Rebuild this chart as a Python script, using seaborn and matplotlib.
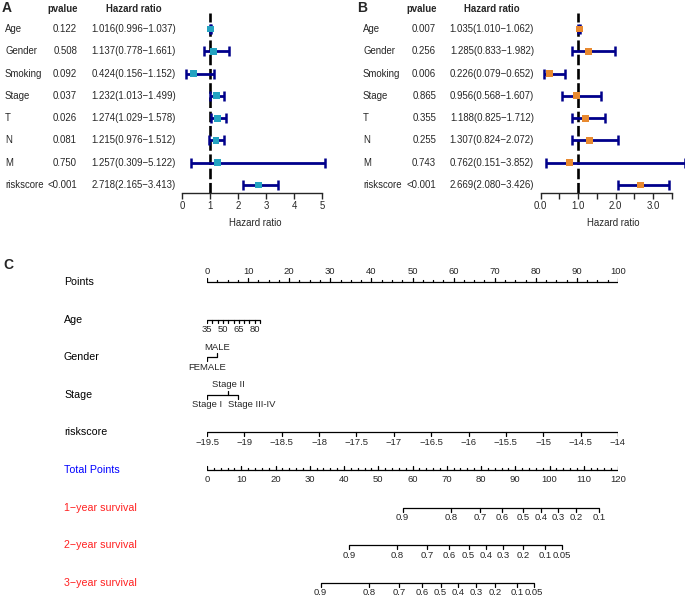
import numpy as np
import pandas as pd
import seaborn as sns
import matplotlib.pyplot as plt
from matplotlib import transforms

sns.set_style("white")
plt.rcParams['font.family'] = ['Liberation Sans', 'DejaVu Sans']

variables = ['Age', 'Gender', 'Smoking', 'Stage', 'T', 'N', 'M', 'riskscore']

# A: univariate cox
uni_p = ['0.122', '0.508', '0.092', '0.037', '0.026', '0.081', '0.750', '<0.001']
uni_hr = [1.016, 1.137, 0.424, 1.232, 1.274, 1.215, 1.257, 2.718]
uni_low = [0.996, 0.778, 0.156, 1.013, 1.029, 0.976, 0.309, 2.165]
uni_high = [1.037, 1.661, 1.152, 1.499, 1.578, 1.512, 5.122, 3.413]

# B: multivariate cox
multi_p = ['0.007', '0.256', '0.006', '0.865', '0.355', '0.255', '0.743', '<0.001']
multi_hr = [1.035, 1.285, 0.226, 0.956, 1.188, 1.307, 0.762, 2.669]
multi_low = [1.010, 0.833, 0.079, 0.568, 0.825, 0.824, 0.151, 2.080]
multi_high = [1.062, 1.982, 0.652, 1.607, 1.712, 2.072, 3.852, 3.426]

# C: nomogram (positions on the 0-100 points scale)
age_values = [35, 85]
age_points = [0, 12.9]
age_labels = [35, 50, 65, 80]
gender_labels = ['FEMALE', 'MALE']
gender_points = [0, 2.4]
stage_labels = ['Stage I', 'Stage II', 'Stage III-IV']
stage_points = [0, 5.1, 7.5]
risk_values = [-19.5, -14]
risk_points = [0, 100]
total_max = 120
surv1_prob = ['0.9', '0.8', '0.7', '0.6', '0.5', '0.4', '0.3', '0.2', '0.1']
surv1_total = [57.1, 71.2, 79.7, 86.1, 92.3, 97.5, 102.5, 107.7, 114.5]
surv2_prob = ['0.9', '0.8', '0.7', '0.6', '0.5', '0.4', '0.3', '0.2', '0.1', '0.05']
surv2_total = [41.5, 55.4, 64.2, 70.6, 76.4, 81.5, 86.4, 92.3, 98.8, 103.6]
surv3_prob = ['0.9', '0.8', '0.7', '0.6', '0.5', '0.4', '0.3', '0.2', '0.1', '0.05']
surv3_total = [33.2, 47.3, 56.2, 62.9, 68.2, 73.3, 78.5, 84.1, 90.5, 95.5]

W, H = 685, 596
fig = plt.figure(figsize=(W / 100, H / 100), dpi=100)


def fx(px):
    return px / W


def fy(py):
    return 1 - py / H


FS = 6.9
navy = '#00008B'


def forest(x0, ppu, xmax, spine_max, hr, lo, hi, pv, color, ticks, ticklabels,
           name_x, p_x, hr_x, hrhead_x, letter, letter_x):
    ax = fig.add_axes([fx(x0), fy(193), xmax * ppu / W, 180 / H])
    df = pd.DataFrame({'var': variables, 'row': np.arange(8), 'hr': hr, 'lo': lo, 'hi': hi})
    ax.axvline(1, color='black', lw=1.9, ls=(0, (4, 1.4)), zorder=1)
    ax.errorbar(df['hr'], df['row'], xerr=[df['hr'] - df['lo'], df['hi'] - df['hr']],
                fmt='none', ecolor=navy, elinewidth=2.0, capsize=3.6, capthick=1.8, zorder=2)
    sns.scatterplot(data=df, x='hr', y='row', marker='s', color=color, s=24,
                    edgecolor='none', ax=ax, zorder=3, legend=False)
    ax.set_xlim(0, xmax)
    ax.set_ylim(7.36, -0.72)
    for a in ax.get_children():
        try:
            a.set_clip_on(False)
        except Exception:
            pass
    for s in ['left', 'top', 'right']:
        ax.spines[s].set_visible(False)
    ax.spines['bottom'].set_bounds(0, spine_max)
    ax.spines['bottom'].set_linewidth(1.0)
    ax.set_yticks([])
    ax.set_xticks(ticks)
    ax.set_xticklabels(ticklabels)
    ax.tick_params(axis='x', direction='out', length=4, width=1, labelsize=FS, pad=2,
                   bottom=True)
    ax.set_xlabel('Hazard ratio', fontsize=FS, labelpad=5)
    ax.set_ylabel('')
    tr = transforms.blended_transform_factory(fig.transFigure, ax.transData)
    for i, v in enumerate(variables):
        ax.text(fx(name_x), i, v, transform=tr, ha='left', va='center', fontsize=FS)
        ax.text(fx(p_x), i, pv[i], transform=tr, ha='right', va='center', fontsize=FS)
        ax.text(fx(hr_x), i, f'{hr[i]:.3f}({lo[i]:.3f}\u2212{hi[i]:.3f})', transform=tr,
                ha='right', va='center', fontsize=FS)
    fig.text(fx(p_x + 1), fy(9), 'pvalue', ha='right', va='center', fontsize=FS, weight='bold')
    fig.text(fx(hrhead_x), fy(9), 'Hazard ratio', ha='center', va='center', fontsize=FS,
             weight='bold')
    fig.text(fx(letter_x), fy(8), letter, ha='left', va='center', fontsize=10, weight='bold')
    return ax


forest(182, 28.0, 5.2, 5, uni_hr, uni_low, uni_high, uni_p, '#24A3C1',
       [0, 1, 2, 3, 4, 5], ['0', '1', '2', '3', '4', '5'],
       5, 77, 176, 134, 'A', 2)
forest(540.7, 37.4, 3.86, 3.5, multi_hr, multi_low, multi_high, multi_p, '#E8892F',
       np.arange(0, 3.51, 0.5), ['0.0', '', '1.0', '', '2.0', '', '3.0', ''],
       363, 436, 534, 492, 'B', 357)

# ---- nomogram ----
axc = fig.add_axes([fx(207), fy(596), (618 - 207) / W, (596 - 250) / H])
axc.set_xlim(0, 100)
row_dy = 37.6
axc.set_ylim((596 - 282) / row_dy, (250 - 282) / row_dy)
axc.axis('off')
px_y = 1 / row_dy  # one pixel in row units
LW = 0.9
TFS = 6.8


def scale_line(row, x_start, x_end):
    axc.plot([x_start, x_end], [row, row], color='black', lw=LW, solid_capstyle='butt')


def tick(row, x, up, length=4):
    d = -length * px_y if up else length * px_y
    axc.plot([x, x], [row, row + d], color='black', lw=LW)


def label(row, x, text, up):
    d = -10 * px_y if up else 10 * px_y
    axc.text(x, row + d, text, ha='center', va='center', fontsize=TFS)


trc = transforms.blended_transform_factory(fig.transFigure, axc.transData)
row_names = ['Points', 'Age', 'Gender', 'Stage', 'riskscore', 'Total Points',
             '1\u2212year survival', '2\u2212year survival', '3\u2212year survival']
row_colors = ['black'] * 5 + ['#0000FF'] + ['#FF2020'] * 3
for r, (n, c) in enumerate(zip(row_names, row_colors)):
    axc.text(fx(64), r, n, transform=trc, ha='left', va='center', fontsize=7.7, color=c)

# Points
scale_line(0, 0, 100)
for v in np.arange(0, 100.1, 2.5):
    tick(0, v, True, 4 if v % 10 == 0 else 2.5)
for v in range(0, 101, 10):
    label(0, v, str(v), True)

# Age
scale_line(1, age_points[0], age_points[1])
for v in range(35, 86, 5):
    tick(1, np.interp(v, age_values, age_points), False, 3)
for v in age_labels:
    label(1, np.interp(v, age_values, age_points), str(v), False)

# Gender
scale_line(2, gender_points[0], gender_points[1])
for i, (n, p) in enumerate(zip(gender_labels, gender_points)):
    up = i % 2 == 1
    tick(2, p, up, 4)
    label(2, p, n, up)

# Stage
scale_line(3, stage_points[0], stage_points[-1])
for i, (n, p) in enumerate(zip(stage_labels, stage_points)):
    up = i % 2 == 1
    tick(3, p, up, 4)
    shift = 3.4 if n == 'Stage III-IV' else 0
    label(3, p + shift, n, up)

# riskscore
scale_line(4, 0, 100)
for v in np.arange(-19.5, -13.9, 0.5):
    x = np.interp(v, risk_values, risk_points)
    tick(4, x, False, 4)
    label(4, x, f'{v:g}'.replace('-', '\u2212'), False)

# Total points
scale_line(5, 0, 100)
for v in range(0, total_max + 1, 2):
    tick(5, v * 100 / total_max, True, 4 if v % 10 == 0 else 2.5)
for v in range(0, total_max + 1, 10):
    label(5, v * 100 / total_max, str(v), False)

# survival
for r, probs, tps in [(6, surv1_prob, surv1_total), (7, surv2_prob, surv2_total),
                      (8, surv3_prob, surv3_total)]:
    xs = [t * 100 / total_max for t in tps]
    scale_line(r, xs[0], xs[-1])
    for p, x in zip(probs, xs):
        tick(r, x, False, 4)
        label(r, x, p, False)

fig.text(fx(3), fy(265), 'C', ha='left', va='center', fontsize=10, weight='bold')

fig.savefig('out.png', dpi=100)
